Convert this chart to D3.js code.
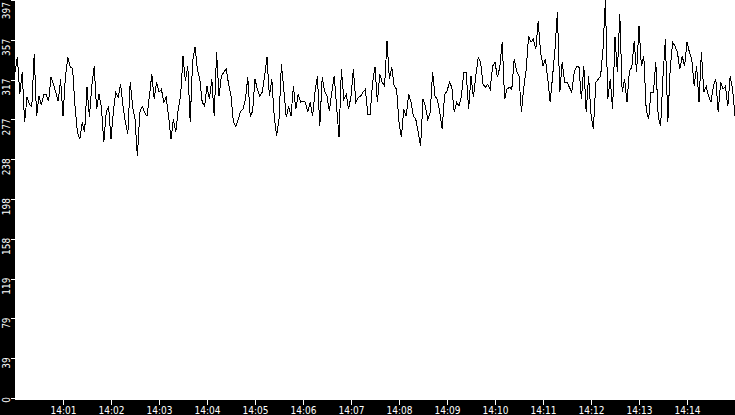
<!DOCTYPE html>
<html>
<head>
<meta charset="utf-8">
<script src="https://cdn.jsdelivr.net/npm/d3@7"></script>
<style>
    html, body { margin: 0; padding: 0; background: #fff; overflow: hidden; }
    svg { display: block; }
    .axis text {
        font-family: "DejaVu Sans Condensed", "DejaVu Sans", sans-serif;
        font-stretch: condensed;
        font-size: 10px;
        fill: #fff;
    }
</style>
</head>
<body>
<div id="chart"></div>
<script>
// samples every 3 seconds starting at 14:00:00
const startTime = [14, 0, 0];
const stepSeconds = 3;
const values = [
    325,340,303,325,275,300,293,291,343,281,301,292,303,303,296,320,313,305,296,318,
    281,320,340,330,329,291,265,258,275,265,310,280,311,331,288,303,290,255,285,291,
    258,286,305,300,313,291,275,263,315,291,278,
    241,285,291,285,281,301,323,298,315,305,308,295,300,281,258,278,265,288,301,341,
    316,331,275,336,350,328,318,295,291,311,298,318,281,345,301,321,325,328,313,301,
    275,271,278,286,288,298,320,281,
    286,318,308,301,305,321,340,301,318,281,261,278,333,308,280,291,281,311,288,303,
    295,296,295,285,295,281,305,321,271,320,306,301,286,305,321,291,260,328,298,303,
    288,301,328,295,300,301,305,308,
    283,283,315,330,295,323,315,311,356,318,330,311,308,275,260,288,281,303,295,281,
    278,265,251,298,291,278,285,325,301,298,285,268,303,306,315,310,285,295,291,301,
    325,325,288,321,300,321,340,335,313,310,313,
    308,331,335,320,330,355,298,308,310,308,338,326,321,285,310,328,361,355,358,348,
    376,345,331,338,318,295,321,348,385,305,335,315,315,310,305,325,331,330,298,331,
    285,321,283,268,315,318,321,348,397,298,
    318,288,360,325,383,305,318,295,326,330,356,325,371,331,341,288,278,305,305,335,
    281,271,321,358,275,328,355,351,345,328,341,331,355,345,338,311,331,295,345,305,
    311,301,295,311,318,285,315,308,311,291,321,308,281
];
const yTickLabels = ["0", "39", "79", "119", "158", "198", "238", "277", "317", "357", "397"];
const xTickLabels = ["14:01", "14:02", "14:03", "14:04", "14:05", "14:06", "14:07",
    "14:08", "14:09", "14:10", "14:11", "14:12", "14:13", "14:14"];

const width = 735, height = 415;
const margin = { left: 15, bottom: 15 };

const svg = d3.select("#chart").append("svg")
    .attr("width", width)
    .attr("height", height);

const t0 = new Date(2000, 0, 1, startTime[0], startTime[1], startTime[2]);
const data = values.map((v, i) => ({ t: new Date(t0.getTime() + i * stepSeconds * 1000), v: v }));

const x = d3.scaleTime()
    .domain([t0, new Date(t0.getTime() + 15 * 60 * 1000)])
    .range([margin.left, width]);

const yMax = d3.max(values);
const y = d3.scaleLinear()
    .domain([0, yMax])
    .range([height - margin.bottom - 2, 0]);

// black bands behind the axes
svg.append("rect")
    .attr("x", 0).attr("y", 0)
    .attr("width", margin.left).attr("height", height)
    .attr("fill", "#000");
svg.append("rect")
    .attr("x", 0).attr("y", height - margin.bottom)
    .attr("width", width).attr("height", margin.bottom)
    .attr("fill", "#000");

// the series
const line = d3.line()
    .x(d => x(d.t))
    .y(d => y(d.v));

svg.append("path")
    .datum(data)
    .attr("d", line)
    .attr("fill", "none")
    .attr("stroke", "#000")
    .attr("stroke-width", 1)
    .attr("shape-rendering", "crispEdges");

// bottom axis
const xTicks = xTickLabels.map((s, i) => new Date(t0.getTime() + (i + 1) * 60 * 1000));
const xAxis = svg.append("g")
    .attr("class", "axis")
    .attr("transform", `translate(0, ${height - margin.bottom})`)
    .call(d3.axisBottom(x)
        .tickValues(xTicks)
        .tickSize(5)
        .tickPadding(2)
        .tickFormat((d, i) => xTickLabels[i]));
xAxis.select(".domain").remove();
xAxis.selectAll("line").attr("stroke", "#fff").attr("shape-rendering", "crispEdges");

// left axis, labels turned on their side
const yTicks = yTickLabels.map((s, i) => i * yMax / 10);
const yAxis = svg.append("g")
    .attr("class", "axis")
    .attr("transform", `translate(${margin.left}, 0)`)
    .call(d3.axisLeft(y)
        .tickValues(yTicks)
        .tickSize(4)
        .tickFormat((d, i) => yTickLabels[i]));
yAxis.select(".domain").remove();
yAxis.selectAll("line").attr("stroke", "#fff").attr("shape-rendering", "crispEdges");
yAxis.selectAll("text")
    .attr("transform", "rotate(-90)")
    .attr("text-anchor", "end")
    .attr("dy", 0)
    .attr("y", -5.5)
    .attr("x", d => {
        const ty = y(d);
        const end = Math.max(ty - 1.5, 1.5);
        return ty - end;
    });
</script>
</body>
</html>
